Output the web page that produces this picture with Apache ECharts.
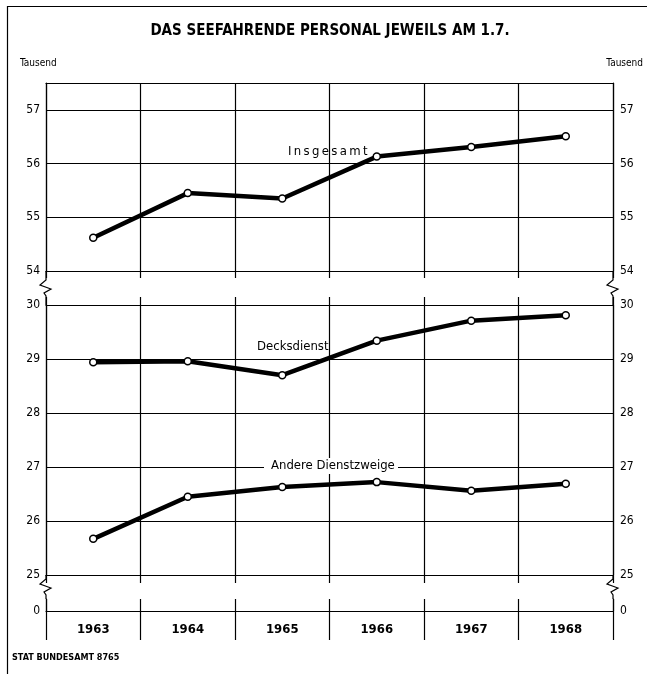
<!DOCTYPE html>
<html><head><meta charset="utf-8">
<script src="https://cdn.jsdelivr.net/npm/echarts@6.0.0/dist/echarts.min.js"></script>
<style>html,body{margin:0;padding:0;background:#fff}#c{width:647px;height:674px}</style>
</head><body><div id="c"></div>
<script>
const years = ['1963', '1964', '1965', '1966', '1967', '1968'];
const insgesamt = [54.62, 55.45, 55.35, 56.13, 56.31, 56.51];
const decksdienst = [28.94, 28.96, 28.70, 29.34, 29.71, 29.81];
const andere = [25.67, 26.45, 26.63, 26.72, 26.56, 26.69];
const upperTickLabels = [54, 55, 56, 57];
const lowerTickLabels = [25, 26, 27, 28, 29, 30];
const baseTickLabels = [0];
const title = 'DAS SEEFAHRENDE PERSONAL JEWEILS AM 1.7.';
const unitLabel = 'Tausend';
const seriesNames = ['Insgesamt', 'Decksdienst', 'Andere Dienstzweige'];
const source = 'STAT BUNDESAMT 8765';

const F = "'DejaVu Sans Condensed','Liberation Sans Narrow','Roboto Condensed','DejaVu Sans',sans-serif";
const LW = 1.2;
const L = 46, R = 613, W = 647;
const G0 = {top: 83, bottom: 271};
const G1 = {top: 305, bottom: 575};
const G2 = {top: 599, bottom: 611};

const chart = echarts.init(document.getElementById('c'), null, {renderer: 'canvas'});

function yAx(grid, pos, min, max, labels, split) {
  return {
    type: 'value', gridIndex: grid, position: pos, min: min, max: max, interval: 1,
    axisLine: {show: true, lineStyle: {color: '#000', width: LW}},
    axisTick: {show: false},
    splitLine: {show: split, lineStyle: {color: '#000', width: LW}},
    axisLabel: {
      show: true, margin: pos === 'left' ? 6 : 7, color: '#000', fontSize: 12, fontFamily: F,
      formatter: function (v) { return labels.indexOf(v) >= 0 ? String(v) : ''; }
    }
  };
}
function xAx(grid, pos, tickLen, split, labels) {
  return {
    type: 'category', data: years, gridIndex: grid, position: pos, boundaryGap: true,
    axisLine: {show: true, lineStyle: {color: '#000', width: LW}},
    axisTick: {show: tickLen > 0, length: tickLen, interval: 0, lineStyle: {color: '#000', width: LW}},
    splitLine: {show: split, interval: 0, lineStyle: {color: '#000', width: LW}},
    axisLabel: labels ? {show: true, interval: 0, margin: 12, color: '#000', fontSize: 13, fontWeight: 'bold', fontFamily: F}
                      : {show: false, interval: 0}
  };
}
function grid(g) {
  return {left: L, right: W - R, top: g.top, height: g.bottom - g.top, containLabel: false, outerBoundsMode: 'none'};
}
function lineSeries(name, data, xi, yi) {
  return {
    name: name, type: 'line', data: data, xAxisIndex: xi, yAxisIndex: yi,
    symbol: 'circle', symbolSize: 7, showSymbol: true,
    lineStyle: {color: '#000', width: 4.5},
    itemStyle: {color: '#fff', borderColor: '#000', borderWidth: 1.5},
    emphasis: {disabled: true}, animation: false, z: 5
  };
}
function zig(x0, y1, y2) {
  const m = (y1 + y2) / 2;
  return {
    type: 'polyline', silent: true, z: 100,
    shape: {points: [[x0, y1], [x0, m - 8], [x0 - 6, m - 3], [x0 + 5, m + 1], [x0 - 2, m + 5], [x0, m + 8], [x0, y2]]},
    style: {stroke: '#000', lineWidth: LW, fill: null}
  };
}
const txt = (text, x, y, opts) => ({
  type: 'text', silent: true, x: x, y: y, z: 100,
  style: Object.assign({text: text, fill: '#000', font: '13px ' + F, textVerticalAlign: 'middle'}, opts || {})
});

chart.setOption({
  backgroundColor: '#fff',
  animation: false,
  grid: [grid(G0), grid(G1), grid(G2)],
  xAxis: [
    xAx(0, 'bottom', 7, true, false),
    xAx(0, 'top', 0, false, false),
    xAx(1, 'bottom', 8, true, false),
    xAx(1, 'top', 8, false, false),
    xAx(2, 'bottom', 29, true, true)
  ],
  yAxis: [
    yAx(0, 'left', 54, 57.5, upperTickLabels, true),
    yAx(0, 'right', 54, 57.5, upperTickLabels, false),
    yAx(1, 'left', 25, 30, lowerTickLabels, true),
    yAx(1, 'right', 25, 30, lowerTickLabels, false),
    yAx(2, 'left', 0, 1, baseTickLabels, false),
    yAx(2, 'right', 0, 1, baseTickLabels, false)
  ],
  series: [
    lineSeries(seriesNames[0], insgesamt, 0, 0),
    lineSeries(seriesNames[1], decksdienst, 2, 2),
    lineSeries(seriesNames[2], andere, 2, 2)
  ],
  graphic: [
    {type: 'line', silent: true, shape: {x1: 7.5, y1: 6, x2: 7.5, y2: 674}, style: {stroke: '#000', lineWidth: 1.2}},
    {type: 'line', silent: true, shape: {x1: 7, y1: 6.5, x2: 647, y2: 6.5}, style: {stroke: '#000', lineWidth: 1.2}},
    txt(title, 330, 31, {font: 'bold 15px ' + F, textAlign: 'center'}),
    txt(unitLabel, 20, 63, {font: '10px ' + F}),
    txt(unitLabel, 643, 63, {font: '10px ' + F, textAlign: 'right'}),
    txt(seriesNames[0].split('').join('\u2009'), 288, 152, {font: '13px ' + F}),
    txt(seriesNames[1], 257, 347, {font: '13px ' + F}),
    {type: 'rect', silent: true, z: 99, shape: {x: 264, y: 458, width: 134, height: 16}, style: {fill: '#fff'}},
    txt(seriesNames[2], 271, 466, {font: '13px ' + F}),
    txt(source, 12, 658, {font: 'bold 9px ' + F}),
    zig(L, G0.bottom, G1.top), zig(R, G0.bottom, G1.top),
    zig(L, G1.bottom, G2.top), zig(R, G1.bottom, G2.top)
  ]
});
</script>
</body></html>
